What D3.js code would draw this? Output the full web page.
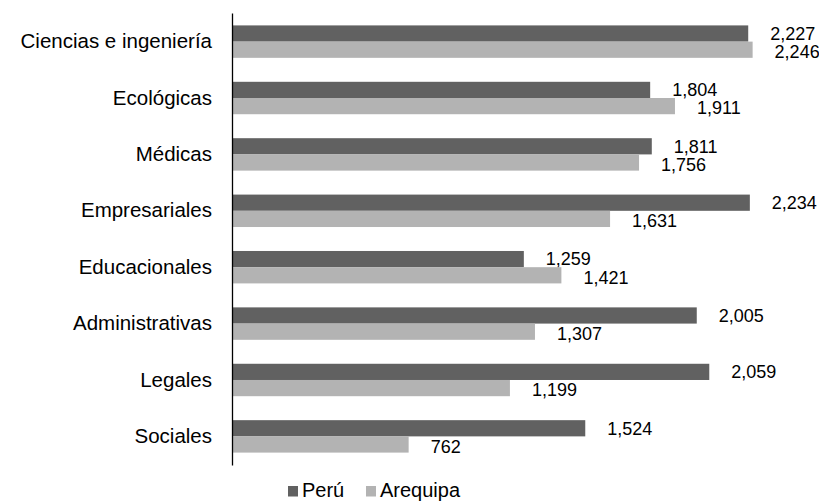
<!DOCTYPE html>
<html><head><meta charset="utf-8">
<script src="https://cdn.jsdelivr.net/npm/d3@7"></script>
<style>body{margin:0;background:#fff}svg{display:block}text{font-family:"Liberation Sans",Arial,sans-serif}</style>
</head><body>
<script>
const categories = ["Ciencias e ingeniería","Ecológicas","Médicas","Empresariales","Educacionales","Administrativas","Legales","Sociales"];
const seriesNames = ["Perú","Arequipa"];
const peru = [2227,1804,1811,2234,1259,2005,2059,1524];
const arequipa = [2246,1911,1756,1631,1421,1307,1199,762];
const colors = ["#616161","#b3b3b3"];

const W=819,H=502;
const svg=d3.select("body").append("svg").attr("width",W).attr("height",H);
const x=d3.scaleLinear().domain([0,2500]).range([232,232+2500*0.2318]);
const y=d3.scaleBand().domain(categories).range([13,465]).paddingInner(0.425).paddingOuter(0.22);
const sub=d3.scaleBand().domain(seriesNames).range([0,y.bandwidth()]);
const fmt=d3.format(",");
const data=categories.map((c,i)=>({c,vals:[peru[i],arequipa[i]]}));

const g=svg.append("g");
data.forEach(d=>{
  d.vals.forEach((v,j)=>{
    g.append("rect").attr("x",x(0)).attr("y",y(d.c)+sub(seriesNames[j])).attr("width",x(v)-x(0)).attr("height",sub.bandwidth()).attr("fill",colors[j]);
    g.append("text").attr("x",x(v)+22).attr("y",y(d.c)+sub(seriesNames[j])+sub.bandwidth()/2+(j===0?0:2)).attr("dy","0.35em").attr("font-size",18).attr("fill","#000").text(fmt(v));
  });
});
const ax=svg.append("g").attr("transform","translate(232,0)").call(d3.axisLeft(y).tickSize(0).tickPadding(20));
ax.select(".domain").attr("stroke","#000").attr("stroke-width",1.3);
ax.selectAll("text").attr("font-size",20.5).attr("fill","#000");
// legend
const leg=svg.append("g");
const lx=[288,366];
const tx=[302,380];
seriesNames.forEach((s,j)=>{
  leg.append("rect").attr("x",lx[j]).attr("y",486).attr("width",10).attr("height",10.5).attr("fill",colors[j]);
  leg.append("text").attr("x",tx[j]).attr("y",496.5).attr("font-size",20).text(s);
});
</script>
</body></html>
